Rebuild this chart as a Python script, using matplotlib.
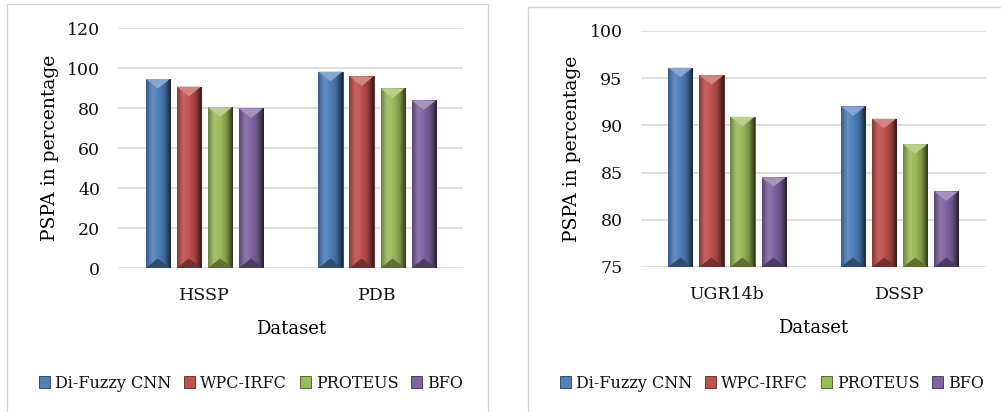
import matplotlib.pyplot as plt
import numpy as np
from matplotlib.colors import LinearSegmentedColormap, to_rgb
from matplotlib.patches import Rectangle, Polygon

plt.rcParams['font.family'] = ['DejaVu Serif']
plt.rcParams['text.color'] = '#111111'

methods = ["Di-Fuzzy CNN", "WPC-IRFC", "PROTEUS", "BFO"]
colors = ["#4f81bd", "#c0504d", "#9bbb59", "#8064a2"]

left_sets = ["HSSP", "PDB"]
left_vals = [
    [94.5, 98.2],   # Di-Fuzzy CNN
    [90.7, 95.8],   # WPC-IRFC
    [80.4, 89.8],   # PROTEUS
    [79.8, 83.8],   # BFO
]
left_ticks = [0, 20, 40, 60, 80, 100, 120]

right_sets = ["UGR14b", "DSSP"]
right_vals = [
    [96.1, 92.0],
    [95.3, 90.7],
    [90.9, 88.0],
    [84.5, 83.0],
]
right_ticks = [75, 80, 85, 90, 95, 100]


def shade(c, f):
    r = np.array(to_rgb(c))
    if f < 1:
        return tuple(r * f)
    return tuple(r + (1 - r) * (f - 1))


def bevel_bar(ax, patch, col):
    # gradient across the bar, clipped to the bar itself
    x0, w = patch.get_x(), patch.get_width()
    y0, h = patch.get_y(), patch.get_height()
    cmap = LinearSegmentedColormap.from_list(
        "g", [shade(col, 0.7), shade(col, 1.12), col, shade(col, 0.8), shade(col, 0.3)])
    grad = np.linspace(0, 1, 64).reshape(1, -1)
    im = ax.imshow(grad, cmap=cmap, aspect="auto", extent=(x0, x0 + w, y0, y0 + h),
                   zorder=3, interpolation="bicubic")
    im.set_clip_path(patch)
    ylo, yhi = ax.get_ylim()
    tri = (yhi - ylo) * 0.04
    top = y0 + h
    ax.add_patch(Polygon([(x0, top), (x0 + w, top), (x0 + w / 2, top - tri)],
                         closed=True, facecolor=shade(col, 1.3), edgecolor="none", zorder=4))
    ax.add_patch(Polygon([(x0, y0), (x0 + w, y0), (x0 + w / 2, y0 + tri)],
                         closed=True, facecolor=shade(col, 0.6), edgecolor="none", zorder=4))
    patch.set_edgecolor(shade(col, 0.45))
    patch.set_linewidth(0.6)


def draw(ax, sets, vals, ticks):
    x = np.arange(len(sets))
    slot = 0.18
    ax.set_ylim(ticks[0], ticks[-1])
    ax.set_xlim(-0.5, len(sets) - 0.5)
    for i, (m, c) in enumerate(zip(methods, colors)):
        off = (i - 1.5) * slot
        bars = ax.bar(x + off, [v - ticks[0] for v in vals[i]], 0.14, bottom=ticks[0],
                      color=c, label=m, zorder=2)
        for b in bars:
            bevel_bar(ax, b, c)
    ax.set_yticks(ticks)
    ax.set_xticks(x)
    ax.set_xticklabels(sets)
    ax.grid(axis="y", color="#d9d9d9", linewidth=1.2, zorder=0)
    ax.set_axisbelow(True)
    for s in ax.spines.values():
        s.set_visible(False)
    ax.tick_params(length=0, labelsize=12.5, labelcolor="#111111")
    ax.tick_params(axis="y", pad=13)
    ax.tick_params(axis="x", pad=14)
    ax.set_ylabel("PSPA in percentage", fontsize=13.5, labelpad=6)
    ax.set_xlabel("Dataset", fontsize=13, labelpad=11)


fig = plt.figure(figsize=(10.01, 4.12), dpi=100)

# panel frames
fig.patches.append(Rectangle((7 / 1001, -0.05), 481 / 1001, 1 - 4 / 412 + 0.05,
                             transform=fig.transFigure, fill=False, edgecolor="#d0d0d0", lw=1))
fig.patches.append(Rectangle((528 / 1001, -0.05), 0.6, 1 - 7 / 412 + 0.05,
                             transform=fig.transFigure, fill=False, edgecolor="#d0d0d0", lw=1))

ax1 = fig.add_axes([0.118, 0.3495, 0.345, 0.5825])
ax2 = fig.add_axes([0.640, 0.352, 0.345, 0.573])
draw(ax1, left_sets, left_vals, left_ticks)
draw(ax2, right_sets, right_vals, right_ticks)

for ax, cx in ((ax1, 251 / 1001), (ax2, 772 / 1001)):
    h, l = ax.get_legend_handles_labels()
    fig.legend(h, l, loc="center", bbox_to_anchor=(cx, 1 - 383 / 412), ncol=4, frameon=False,
               fontsize=11.5, handlelength=0.7, handleheight=0.7, handletextpad=0.3,
               columnspacing=0.8, borderaxespad=0)

fig.savefig("out.png", dpi=100)
